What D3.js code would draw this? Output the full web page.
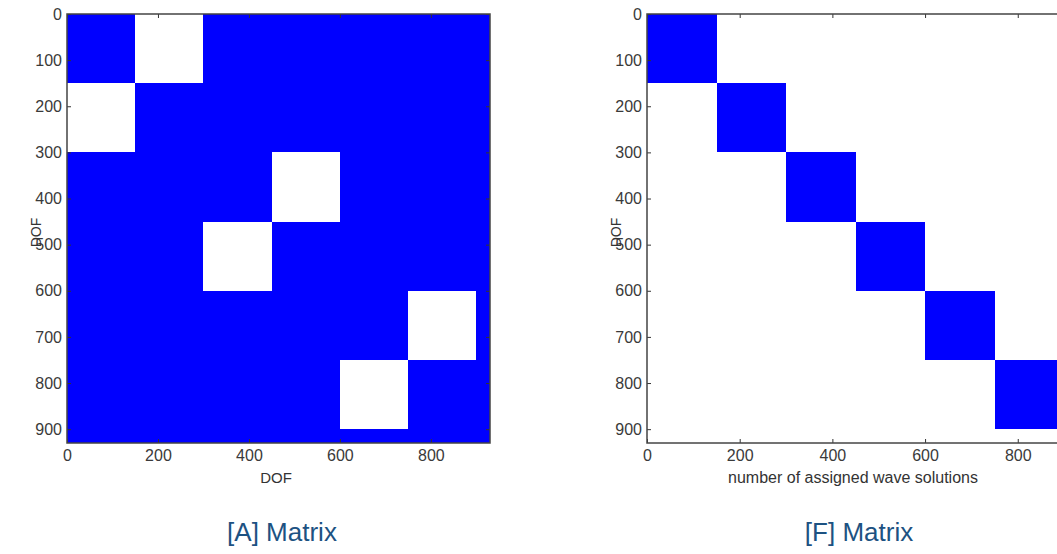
<!DOCTYPE html>
<html>
<head>
<meta charset="utf-8">
<script src="https://cdn.jsdelivr.net/npm/d3@7"></script>
<style>
  html, body { margin: 0; padding: 0; background: #fff; overflow: hidden; }
  svg { display: block; }
  .tick text { font-family: "Liberation Sans", Arial, sans-serif; font-size: 16px; fill: #3a3a3a; }
</style>
</head>
<body>
<svg id="chart" width="1057" height="554"></svg>
<script>
// Block boundaries (degrees of freedom) shared by both sparsity patterns
const blockEdges = [0, 150, 300, 450, 600, 750, 900, 930];
const matrixSize = 930;

// Sparsity pattern of [A]: 1 = nonzero block, 0 = empty block (rows top to bottom)
const patternA = [
  [1, 0, 1, 1, 1, 1, 1],
  [0, 1, 1, 1, 1, 1, 1],
  [1, 1, 1, 0, 1, 1, 1],
  [1, 1, 0, 1, 1, 1, 1],
  [1, 1, 1, 1, 1, 0, 1],
  [1, 1, 1, 1, 0, 1, 1],
  [1, 1, 1, 1, 1, 1, 1]
];

// Sparsity pattern of [F]: block diagonal
const patternF = [
  [1, 0, 0, 0, 0, 0, 0],
  [0, 1, 0, 0, 0, 0, 0],
  [0, 0, 1, 0, 0, 0, 0],
  [0, 0, 0, 1, 0, 0, 0],
  [0, 0, 0, 0, 1, 0, 0],
  [0, 0, 0, 0, 0, 1, 0],
  [0, 0, 0, 0, 0, 0, 0]
];

const xTicks = [0, 200, 400, 600, 800];
const yTicks = [0, 100, 200, 300, 400, 500, 600, 700, 800, 900];

const panels = [
  { pattern: patternA, title: "[A] Matrix", xLabel: "DOF", yLabel: "DOF",
    left: 67, right: 490, yLabelX: 41, xLabelX: 276, xLabelSize: 15, titleX: 282 },
  { pattern: patternF, title: "[F] Matrix", xLabel: "number of assigned wave solutions", yLabel: "DOF",
    left: 647, right: 1078, yLabelX: 621, xLabelX: 853, xLabelSize: 16, titleX: 859 }
];

const plotTop = 14, plotBottom = 443;
const svg = d3.select("#chart");

panels.forEach(p => {
  const x = d3.scaleLinear().domain([0, matrixSize]).range([p.left, p.right]);
  const y = d3.scaleLinear().domain([0, matrixSize]).range([plotTop, plotBottom]);

  const g = svg.append("g");

  // nonzero blocks
  const cells = [];
  p.pattern.forEach((row, i) => row.forEach((v, j) => {
    if (v) cells.push({ r0: blockEdges[i], r1: blockEdges[i + 1], c0: blockEdges[j], c1: blockEdges[j + 1] });
  }));
  g.selectAll("rect.cell").data(cells).join("rect")
    .attr("class", "cell")
    .attr("x", d => x(d.c0))
    .attr("y", d => y(d.r0))
    .attr("width", d => x(d.c1) - x(d.c0))
    .attr("height", d => y(d.r1) - y(d.r0))
    .attr("fill", "#0000ff")
    .attr("shape-rendering", "crispEdges");

  // axes with inward ticks on all four sides
  const axStyle = sel => {
    sel.select(".domain").remove();
    sel.selectAll(".tick line").attr("stroke", "#333").attr("stroke-width", 1);
  };
  g.append("g").attr("transform", `translate(0,${plotBottom})`)
    .call(d3.axisBottom(x).tickValues(xTicks).tickSize(-4).tickPadding(7))
    .call(axStyle);
  g.append("g").attr("transform", `translate(0,${plotTop})`)
    .call(d3.axisTop(x).tickValues(xTicks).tickSize(-4).tickFormat(""))
    .call(axStyle);
  g.append("g").attr("transform", `translate(${p.left},0)`)
    .call(d3.axisLeft(y).tickValues(yTicks).tickSize(-4).tickPadding(5))
    .call(axStyle);
  g.append("g").attr("transform", `translate(${p.right},0)`)
    .call(d3.axisRight(y).tickValues(yTicks).tickSize(-4).tickFormat(""))
    .call(axStyle);
  g.selectAll(".tick text").attr("font-size", null).attr("font-family", null);

  // plot box
  g.append("rect")
    .attr("x", p.left).attr("y", plotTop)
    .attr("width", p.right - p.left).attr("height", plotBottom - plotTop)
    .attr("fill", "none").attr("stroke", "#444").attr("stroke-width", 1.5);

  // axis labels
  g.append("text")
    .attr("x", p.xLabelX)
    .attr("y", 483)
    .attr("text-anchor", "middle")
    .attr("font-family", "Liberation Sans, Arial, sans-serif")
    .attr("font-size", p.xLabelSize)
    .attr("fill", "#333")
    .text(p.xLabel);
  g.append("text")
    .attr("transform", `translate(${p.yLabelX},${(plotTop + plotBottom) / 2 + 4}) rotate(-90)`)
    .attr("text-anchor", "middle")
    .attr("font-family", "Liberation Sans, Arial, sans-serif")
    .attr("font-size", 14)
    .attr("fill", "#333")
    .text(p.yLabel);

  // panel caption
  g.append("text")
    .attr("x", p.titleX)
    .attr("y", 541)
    .attr("text-anchor", "middle")
    .attr("font-family", "Liberation Sans, Arial, sans-serif")
    .attr("font-size", 26)
    .attr("fill", "#1d5282")
    .text(p.title);
});
</script>
</body>
</html>
